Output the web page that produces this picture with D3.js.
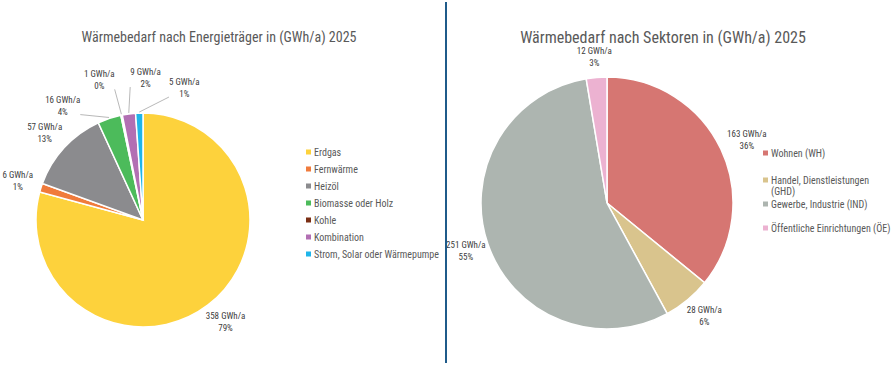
<html>
  <head>
    <script src="https://cdnjs.cloudflare.com/ajax/libs/d3/7.9.0/d3.min.js"></script>
    <style>
      body { margin: 0; background: #fff; }
      text { font-family: "Liberation Sans Narrow", "Roboto Condensed", "Liberation Sans", sans-serif; }
    </style>
  </head>
  <body onload="main()">
  </body>
  <script>
    // left chart: heat demand by energy carrier
    const carriers = ['Erdgas', 'Fernwärme', 'Heizöl', 'Biomasse oder Holz', 'Kohle', 'Kombination', 'Strom, Solar oder Wärmepumpe']
    const carrierValues = [358, 6, 57, 16, 1, 9, 5]
    const carrierShares = ['79%', '1%', '13%', '4%', '0%', '2%', '1%']
    const carrierColors = ['#fdd23c', '#f07b3c', '#8b8b8e', '#4cbb5b', '#7a2e14', '#b26fb3', '#1fb5ea']

    // right chart: heat demand by sector
    const sectors = ['Wohnen (WH)', 'Handel, Dienstleistungen (GHD)', 'Gewerbe, Industrie (IND)', 'Öffentliche Einrichtungen (ÖE)']
    const sectorValues = [163, 28, 251, 12]
    const sectorShares = ['36%', '6%', '55%', '3%']
    const sectorColors = ['#d67672', '#d9c48d', '#adb5b0', '#ecb2d1']

    function main() {
      const width = 893, height = 369
      const svg = d3.select('body').append('svg')
        .attr('width', width)
        .attr('height', height)

      drawPie({
        svg, cx: 143, cy: 220, radius: 107, clipLeft: 0,
        labels: carriers, values: carrierValues, shares: carrierShares, colors: carrierColors,
        // excel moved these labels apart, [angle in degrees, extra distance]
        labelMoves: [null, null, null, [326, 10], [343, 18], [1, 14], [17, 10]],
        title: 'Wärmebedarf nach Energieträger in (GWh/a) 2025', titleX: 219, titleY: 42, titleSize: 14,
        legendX: 306, legendY: 152, legendStep: 17, legendWrap: 999
      })

      drawPie({
        svg, cx: 607, cy: 203, radius: 126, clipLeft: 446,
        labels: sectors, values: sectorValues, shares: sectorShares, colors: sectorColors,
        labelMoves: [null, null, null, null],
        title: 'Wärmebedarf nach Sektoren in (GWh/a) 2025', titleX: 663, titleY: 43, titleSize: 16,
        legendX: 763, legendY: 153, legendStep: [27, 24, 24], legendWrap: 121
      })

      svg.append('line')
        .attr('x1', 446).attr('x2', 446)
        .attr('y1', 2).attr('y2', 363)
        .attr('stroke', '#1f5b8a')
        .attr('stroke-width', 2)
    }

    function drawPie({ svg, cx, cy, radius, clipLeft, labels, values, shares, colors, labelMoves, title, titleX, titleY, titleSize, legendX, legendY, legendStep, legendWrap }) {
      svg.append('text')
        .attr('x', titleX)
        .attr('y', titleY)
        .attr('text-anchor', 'middle')
        .attr('font-size', titleSize)
        .attr('fill', '#595959')
        .text(title)

      const arcs = d3.pie().sort(null)(values)
      const arc = d3.arc().innerRadius(0).outerRadius(radius)
      const g = svg.append('g').attr('transform', `translate(${cx}, ${cy})`)

      g.selectAll('.slice')
        .data(arcs)
        .enter()
        .append('path')
        .classed('slice', true)
        .attr('d', arc)
        .attr('fill', (d, i) => colors[i])
        .attr('stroke', '#fff')
        .attr('stroke-width', 1.5)

      // data labels outside end
      const gap = 9, lineH = 12, fs = 9
      arcs.forEach((d, i) => {
        const lines = [values[i] + ' GWh/a', shares[i]]
        const t = g.append('text')
          .attr('text-anchor', 'middle')
          .attr('font-size', fs)
          .attr('fill', '#404040')
        const spans = lines.map(ln => t.append('tspan').text(ln))
        const w = spans[0].node().getComputedTextLength()
        const mid = (d.startAngle + d.endAngle) / 2
        const move = labelMoves[i]
        const ang = move ? move[0] * Math.PI / 180 : mid
        const r = radius + gap + (move ? move[1] : 0)
        const s = Math.sin(ang), c = -Math.cos(ang)
        let x = r * s + s * w / 2
        const y = r * c + c * lineH
        if (cx + x - w / 2 < clipLeft) x = clipLeft - cx + w / 2
        spans.forEach((sp, k) => sp.attr('x', x).attr('y', y - 3 + k * lineH))
        if (move) {
          const ex = (radius + 1) * Math.sin(mid), ey = -(radius + 1) * Math.cos(mid)
          const lx = Math.max(x - w / 2, Math.min(x + w / 2, ex))
          const ly = Math.max(y - 9, Math.min(y + 9, ey))
          g.insert('line', 'text')
            .attr('x1', ex).attr('y1', ey)
            .attr('x2', lx).attr('y2', ly)
            .attr('stroke', '#a6a6a6')
            .attr('stroke-width', 0.8)
        }
      })

      // legend
      labels.forEach((name, i) => {
        const ly = legendY + (Array.isArray(legendStep) ? d3.sum(legendStep.slice(0, i)) : legendStep * i)
        const lg = svg.append('g').attr('transform', `translate(${legendX}, ${ly})`)
        lg.append('rect')
          .attr('x', 0).attr('y', -2.5)
          .attr('width', 5).attr('height', 5)
          .attr('fill', colors[i])
        const t = lg.append('text')
          .attr('x', 8)
          .attr('y', 3.5)
          .attr('font-size', 10)
          .attr('fill', '#595959')
        // wrap long entries like excel does
        const words = name.split(' ')
        let line = '', k = 0
        let ts = t.append('tspan').attr('x', 8).attr('y', 3.5)
        words.forEach(wd => {
          const test = line ? line + ' ' + wd : wd
          ts.text(test)
          if (ts.node().getComputedTextLength() > legendWrap && line) {
            ts.text(line)
            k++
            line = wd
            ts = t.append('tspan').attr('x', 8).attr('y', 3.5 + k * 11).text(wd)
          } else line = test
        })
      })
    }
  </script>
</html>
